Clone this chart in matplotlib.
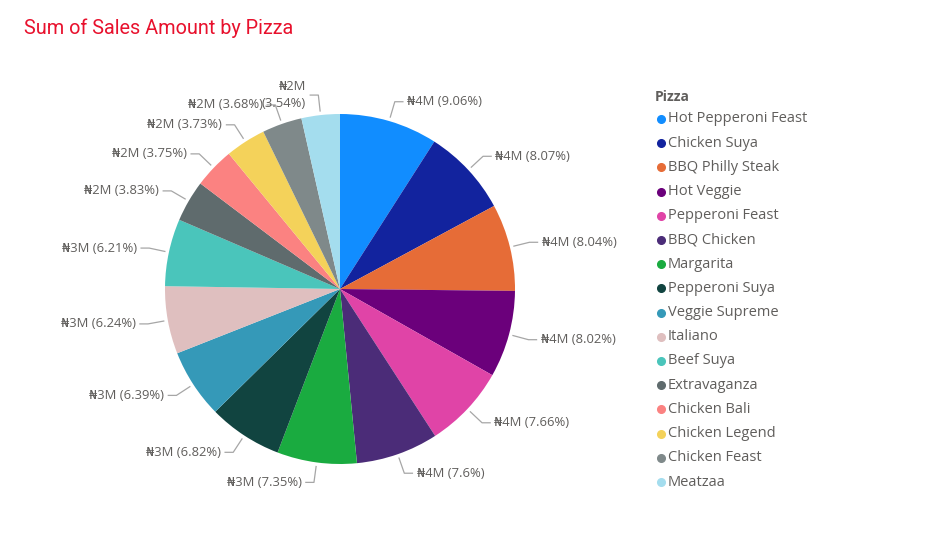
import numpy as np
import matplotlib
matplotlib.use('Agg')
import matplotlib.pyplot as plt
from matplotlib.lines import Line2D

# datos del grafico
pizzas = ['Hot Pepperoni Feast', 'Chicken Suya', 'BBQ Philly Steak', 'Hot Veggie',
          'Pepperoni Feast', 'BBQ Chicken', 'Margarita', 'Pepperoni Suya',
          'Veggie Supreme', 'Italiano', 'Beef Suya', 'Extravaganza',
          'Chicken Bali', 'Chicken Legend', 'Chicken Feast', 'Meatzaa']
sales_pct = [9.06, 8.07, 8.04, 8.02, 7.66, 7.6, 7.35, 6.82,
             6.39, 6.24, 6.21, 3.83, 3.75, 3.73, 3.68, 3.54]
sales_label = ['₦4M', '₦4M', '₦4M', '₦4M', '₦4M', '₦4M', '₦3M', '₦3M',
               '₦3M', '₦3M', '₦3M', '₦2M', '₦2M', '₦2M', '₦2M', '₦2M']
colors = ['#118DFF', '#12239E', '#E66C37', '#6B007B', '#E044A7', '#4B2C78',
          '#1AAB40', '#114440', '#3599B8', '#DFBFBF', '#4AC5BB', '#5F6B6D',
          '#FB8281', '#F4D25A', '#7F898A', '#A4DDEE']

W, H = 951, 553
fam = ['Open Sans', 'DejaVu Sans']
gris = '#605E5C'

fig = plt.figure(figsize=(W / 100, H / 100), dpi=100)

# eje del pastel: centro en (340, 289) px, radio 175 px
cx, cy, R = 340, 289, 175
lim = 1.4
side = 2 * lim * R
ax = fig.add_axes([(cx - side / 2) / W, (H - cy - side / 2) / H, side / W, side / H])
wedges, _ = ax.pie(sales_pct, colors=colors, startangle=90, counterclock=False,
                   radius=1, wedgeprops=dict(linewidth=0))
ax.set_xlim(-lim, lim)
ax.set_ylim(-lim, lim)
ax.set_aspect('equal')
ax.axis('off')

# etiquetas con lineas guia
for w, pct, amt in zip(wedges, sales_pct, sales_label):
    ang = np.deg2rad((w.theta1 + w.theta2) / 2)
    x, y = np.cos(ang), np.sin(ang)
    side_sign = 1 if x >= 0 else -1
    x0, y0 = 1.02 * x, 1.02 * y
    x1, y1 = 1.115 * x, 1.115 * y
    x2 = x1 + side_sign * 0.05
    ax.plot([x0, x1, x2], [y0, y1, y1], color='#A6A6A6', lw=0.9, solid_capstyle='butt')
    txt = f"{amt} ({pct:g}%)"
    if abs(x) < 0.15 and y > 0:  # poco espacio arriba: se parte en dos lineas
        txt = f"{amt}\n({pct:g}%)"
    ax.text(x2 + side_sign * 0.02, y1, txt, ha='left' if side_sign > 0 else 'right',
            va='center', fontsize=9.4, color=gris, family=fam, linespacing=1.45)

# titulo
fig.text(24 / W, 1 - 28 / H, 'Sum of Sales Amount by Pizza', fontsize=14.3,
         color='#E8112D', family=['Roboto', 'DejaVu Sans'], va='center', ha='left')

# leyenda
fig.text(655 / W, 1 - 97 / H, 'Pizza', fontsize=10, fontweight='bold', color=gris,
         family=fam, va='center', ha='left')
for i, (name, c) in enumerate(zip(pizzas, colors)):
    yy = 1 - (119 + i * 24.2) / H
    fig.add_artist(Line2D([661 / W], [yy], marker='o', markersize=5.5, color=c,
                          transform=fig.transFigure))
    fig.text(668 / W, yy, name, fontsize=10.5, color=gris, family=fam,
             va='center', ha='left')

plt.savefig('out.png', dpi=100)
